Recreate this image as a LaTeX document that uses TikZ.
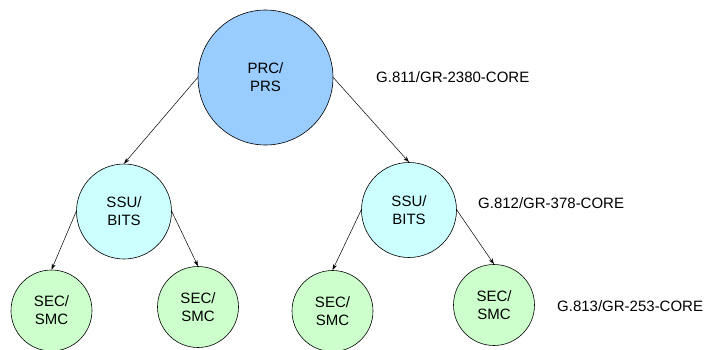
\documentclass[tikz,border=0pt]{standalone}
\usepackage{fontspec}
\setmainfont{Liberation Sans}
\usetikzlibrary{arrows.meta}
\definecolor{prcblue}{HTML}{99CCFF}
\definecolor{ssucyan}{HTML}{CCFFFF}
\definecolor{secgreen}{HTML}{CCFFCC}
\tikzset{
  clk/.style={circle, draw=black, line width=0.6pt, inner sep=0pt, align=center,
    font=\fontsize{15}{18}\selectfont},
  prc/.style={clk, fill=prcblue, minimum size=135pt},
  ssu/.style={clk, fill=ssucyan, minimum size=95pt},
  sec/.style={clk, fill=secgreen, minimum size=81pt},
  std/.style={anchor=west, inner sep=0pt, font=\fontsize{15}{18}\selectfont},
  link/.style={draw=black, line width=0.5pt, -{Stealth[length=6pt,width=4pt]}}
}
\begin{document}
\begin{tikzpicture}[x=1pt, y=-1pt]
  \useasboundingbox (0,0) rectangle (707,349);
  \begin{scope}
    \clip (0,0) rectangle (707,349);
    % clock hierarchy
    \node[prc] (prc) at (265.5,77.5) {PRC/\\PRS};
    \node[ssu] (ssuL) at (124,211.5) {SSU/\\BITS};
    \node[ssu] (ssuR) at (409,210) {SSU/\\BITS};
    \node[sec] (sec1) at (51.5,310.5) {SEC/\\SMC};
    \node[sec] (sec2) at (198,307) {SEC/\\SMC};
    \node[sec] (sec3) at (332.5,311) {SEC/\\SMC};
    \node[sec] (sec4) at (494,305) {SEC/\\SMC};
    % distribution links
    \draw[link] (prc.west) -- (ssuL.north);
    \draw[link] (prc.east) -- (ssuR.north);
    \draw[link] (ssuL.west) -- (sec1.north);
    \draw[link] (ssuL.east) -- (sec2.north);
    \draw[link] (ssuR.west) -- (sec3.north);
    \draw[link] (ssuR.east) -- (sec4.north);
  \end{scope}
  % standards per stratum
  \node[std] (std1) at (376,77) {G.811/GR-2380-CORE};
  \node[std] (std2) at (478,203) {G.812/GR-378-CORE};
  \node[std] (std3) at (557,306) {G.813/GR-253-CORE};
\end{tikzpicture}
\end{document}
